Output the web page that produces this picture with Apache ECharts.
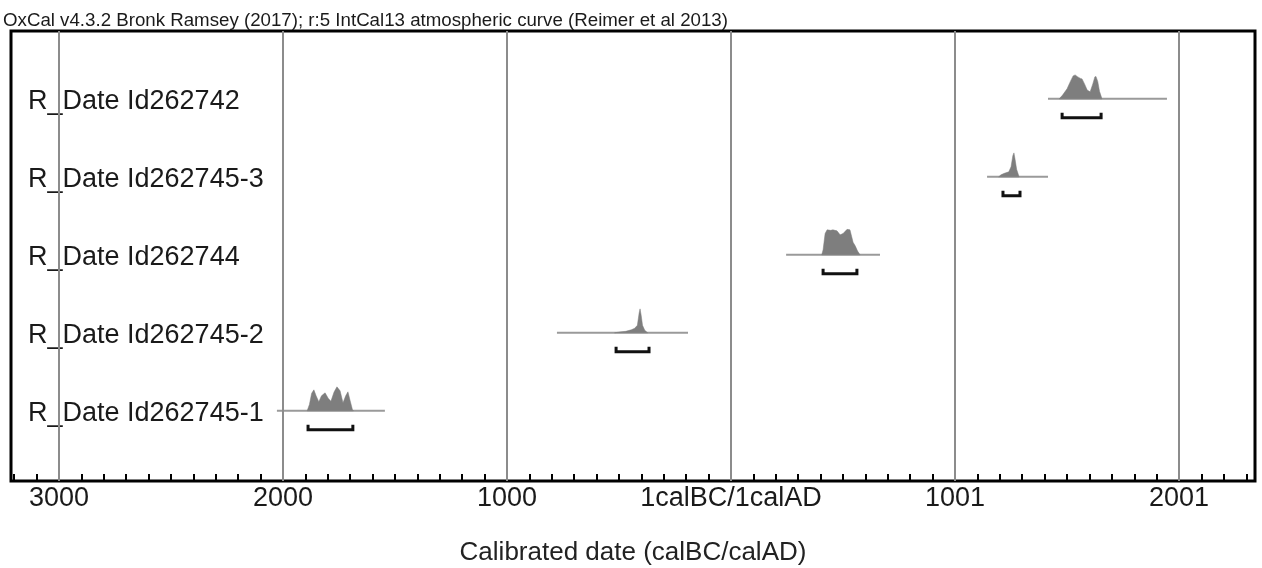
<!DOCTYPE html>
<html>
<head>
<meta charset="utf-8">
<script src="https://cdn.jsdelivr.net/npm/echarts@6/dist/echarts.min.js"></script>
<style>
  html, body { margin: 0; padding: 0; background: #fff; }
  #chart { width: 1262px; height: 568px; }
</style>
</head>
<body>
<div id="chart"></div>
<script>
// rows, bottom to top
const rowLabels = ["R_Date Id262745-1", "R_Date Id262745-2", "R_Date Id262744", "R_Date Id262745-3", "R_Date Id262742"];

// x values are years counted from the 1calBC/1calAD boundary (BC negative)
const tickValues = [-3000, -2000, -1000, 0, 1000, 2000];
const tickLabels = ["3000", "2000", "1000", "1calBC/1calAD", "1001", "2001"];

// plotted range of each calibration (thin grey line)
const rangeStart = [-2027, -777, 246, 1143, 1415];
const rangeEnd = [-1545, -192, 665, 1415, 1946];

// 95.4% ranges (bracket under each distribution)
const bracketFrom = [-1888, -513, 411, 1214, 1478];
const bracketTo = [-1688, -366, 562, 1290, 1652];

// probability distributions, [year, relative density]
const probId262745_1 = [[-1892, 0], [-1882, 0.25], [-1872, 0.7], [-1862, 0.84], [-1852, 0.6], [-1840, 0.36], [-1828, 0.6], [-1812, 0.72], [-1798, 0.5], [-1786, 0.38], [-1772, 0.75], [-1759, 0.96], [-1745, 0.8], [-1732, 0.32], [-1720, 0.6], [-1710, 0.76], [-1700, 0.4], [-1690, 0.05], [-1685, 0]];
const probId262745_2 = [[-520, 0], [-500, 0.03], [-470, 0.06], [-445, 0.12], [-430, 0.18], [-418, 0.3], [-410, 0.8], [-406, 0.96], [-401, 0.7], [-395, 0.3], [-385, 0.1], [-372, 0]];
const probId262744 = [[405, 0], [411, 0.2], [420, 0.85], [429, 1.0], [445, 0.98], [455, 1.0], [473, 0.96], [487, 0.8], [500, 0.85], [518, 1.02], [531, 1.0], [538, 0.75], [545, 0.5], [555, 0.35], [565, 0.15], [576, 0]];
const probId262745_3 = [[1195, 0], [1205, 0.08], [1220, 0.14], [1240, 0.2], [1250, 0.4], [1258, 0.85], [1263, 0.96], [1268, 0.7], [1275, 0.3], [1286, 0]];
const probId262742 = [[1465, 0], [1480, 0.15], [1500, 0.4], [1515, 0.7], [1527, 0.92], [1536, 0.96], [1548, 0.88], [1560, 0.82], [1567, 0.8], [1578, 0.6], [1590, 0.35], [1603, 0.28], [1615, 0.6], [1624, 0.88], [1629, 0.9], [1637, 0.7], [1645, 0.3], [1656, 0]];

const distributions = [probId262745_1, probId262745_2, probId262744, probId262745_3, probId262742];

const FONT = "'Liberation Sans', Arial, sans-serif";
const PEAK = 0.32;          // peak height in row units
const LABEL_SHIFT = 0.035;  // row labels sit a hair below the baseline
const minorTicks = [];
for (let v = -3200; v <= 2300; v += 100) minorTicks.push(v);

const chart = echarts.init(document.getElementById("chart"));

function renderRow(params, api) {
  const i = params.dataIndex;
  const row = i + 1;
  const a = api.coord([rangeStart[i], row]);
  const b = api.coord([rangeEnd[i], row]);
  const pts = distributions[i].map(p => api.coord([p[0], row + p[1] * PEAK]));
  const first = distributions[i][0], last = distributions[i][distributions[i].length - 1];
  pts.push(api.coord([last[0], row]));
  pts.push(api.coord([first[0], row]));
  const p1 = api.coord([bracketFrom[i], row]);
  const p2 = api.coord([bracketTo[i], row]);
  const by = p1[1] + 19;
  return {
    type: "group",
    children: [
      { type: "line", shape: { x1: a[0], y1: a[1], x2: b[0], y2: b[1] },
        style: { stroke: "#9a9a9a", lineWidth: 2 } },
      { type: "polygon", shape: { points: pts },
        style: { fill: "#7e7e7e", stroke: "#7e7e7e", lineWidth: 0.5 } },
      { type: "polyline", shape: { points: [[p1[0], by - 5], [p1[0], by], [p2[0], by], [p2[0], by - 5]] },
        style: { stroke: "#111", lineWidth: 3, fill: null } }
    ]
  };
}

const xCommon = {
  type: "value",
  min: -3214,
  max: 2339,
  position: "bottom",
  offset: 0,
  axisLine: { show: false },
  splitLine: { show: false }
};

chart.setOption({
  animation: false,
  title: {
    text: "OxCal v4.3.2 Bronk Ramsey (2017); r:5 IntCal13 atmospheric curve (Reimer et al 2013)",
    left: 3,
    top: 11,
    padding: 0,
    textStyle: { fontFamily: FONT, fontSize: 18.7, fontWeight: "normal", color: "#1a1a1a" }
  },
  grid: {
    left: 11, right: 7, top: 31, bottom: 87,
    outerBoundsMode: "none",
    show: true, borderColor: "#000", borderWidth: 3, backgroundColor: "#fff"
  },
  xAxis: [
    Object.assign({}, xCommon, {
      axisTick: { show: true, inside: true, length: 7, customValues: minorTicks,
        lineStyle: { color: "#000", width: 2 } },
      axisLabel: { show: false }
    }),
    Object.assign({}, xCommon, {
      name: "Calibrated date (calBC/calAD)",
      nameLocation: "middle",
      nameGap: 59,
      nameTextStyle: { fontFamily: FONT, fontSize: 26, color: "#222" },
      axisTick: { show: true, inside: true, length: 16, customValues: tickValues,
        lineStyle: { color: "#000", width: 2 } },
      axisLabel: {
        customValues: tickValues,
        formatter: v => tickLabels[tickValues.indexOf(v)],
        margin: 4,
        fontFamily: FONT, fontSize: 27, color: "#1a1a1a"
      }
    })
  ],
  yAxis: {
    type: "value",
    min: 0.1,
    max: 5.87,
    axisLine: { show: false },
    axisTick: { show: false },
    splitLine: { show: false },
    axisLabel: {
      customValues: rowLabels.map((_, i) => i + 1 - LABEL_SHIFT),
      formatter: v => rowLabels[Math.round(v) - 1],
      inside: true,
      margin: 17,
      fontFamily: FONT, fontSize: 27, color: "#1a1a1a"
    }
  },
  series: [
    {
      type: "line",
      data: [],
      silent: true,
      z: 1,
      markLine: {
        silent: true,
        symbol: "none",
        label: { show: false },
        lineStyle: { color: "#8c8c8c", width: 2, type: "solid" },
        data: tickValues.map(v => ({ xAxis: v }))
      }
    },
    {
      type: "custom",
      z: 3,
      renderItem: renderRow,
      data: rowLabels.map((_, i) => [rangeStart[i], i + 1])
    }
  ]
});
</script>
</body>
</html>
